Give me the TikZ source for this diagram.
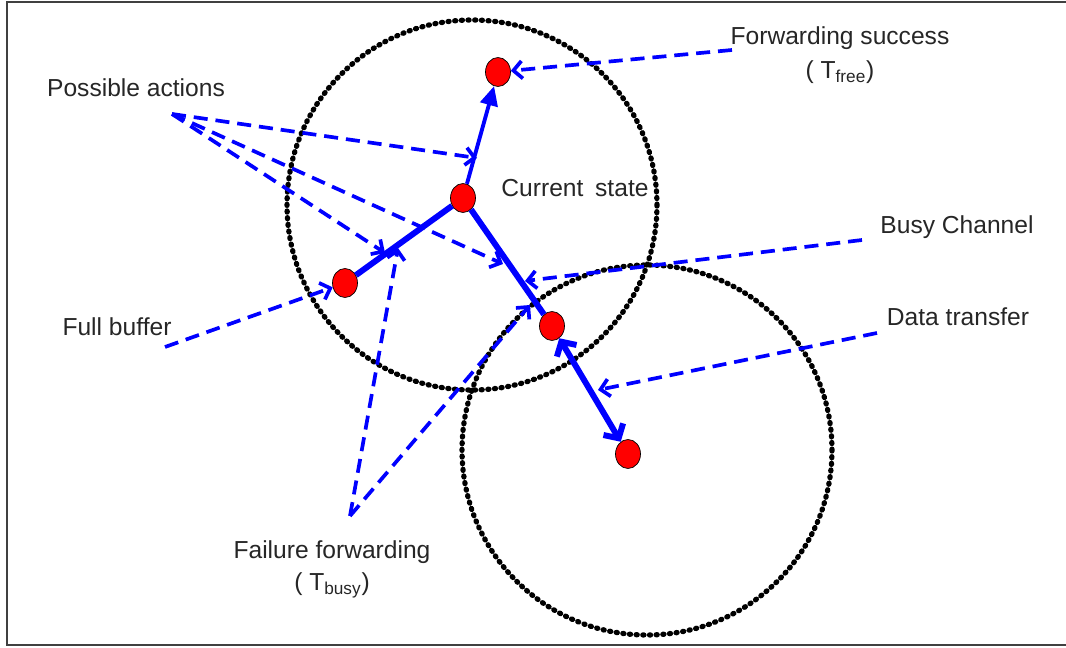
\documentclass[tikz,border=0pt]{standalone}
\usepackage{fontspec}
\setmainfont{Liberation Sans}
\usetikzlibrary{arrows.meta, shapes.geometric}

\begin{document}
\begin{tikzpicture}[x=0.02cm, y=-0.02cm,
        state/.style={draw=black, thin, fill=red, ellipse, minimum width=0.5cm, minimum height=0.58cm, inner sep=0pt},
        lbl/.style={font=\fontsize{14}{16}\selectfont, text=black!85, inner sep=0pt},
        hint/.style={draw=blue, line width=2.1pt, dash pattern=on 8pt off 4.5pt, -{Straight Barb[length=5pt,width=10pt]}},
        ring/.style={draw=black, line width=3pt, dash pattern=on 0.6pt off 3.2pt, line cap=round},
        move/.style={draw=blue, line width=3.4pt}]
        \useasboundingbox (0,0) rectangle (1066,648);
        % Frame
        \draw[black!75, line width=1.4pt] (1070,2) -- (7,2) -- (7,645) -- (1070,645);

        % Ranges
        \draw[ring] (472,205) circle (185);
        \draw[ring] (647,450) circle (185);

        % States
        \node (top) [state] at (498,72) {};
        \node (current) [state] at (463,198) {};
        \node (left) [state] at (345,283) {};
        \node (mid) [state] at (552,326) {};
        \node (bottom) [state] at (628,454) {};

        % Labels
        \node (possible) [lbl] at (136,88) {Possible actions};
        \node (success) [lbl] at (840,38) {Forwarding success};
        \node (tfree) [lbl] at (840,72) {( T\textsubscript{free})};
        \node (curlbl) [lbl] at (575,188) {Current\hspace{0.2em} state};
        \node (busy) [lbl] at (957,227) {Busy Channel};
        \node (transfer) [lbl] at (958,317) {Data transfer};
        \node (full) [lbl] at (117,327) {Full buffer};
        \node (failure) [lbl] at (332,552) {Failure forwarding};
        \node (tbusy) [lbl] at (332,585) {( T\textsubscript{busy})};

        % Free ends of the hints
        \coordinate (pa) at (172,114);
        \coordinate (pa1) at (477,158);
        \coordinate (pa2) at (503,264);
        \coordinate (pa3) at (385,253);
        \coordinate (fb) at (165,347);
        \coordinate (fs) at (732,50);
        \coordinate (bc) at (862,240);
        \coordinate (bc1) at (525,281);
        \coordinate (dt) at (877,333);
        \coordinate (dt1) at (598,390);
        \coordinate (ff) at (350,516);
        \coordinate (ff1) at (398,248);
        \coordinate (ff2) at (530,305);

        % Moves
        \draw[draw=blue, line width=2.2pt, -{Triangle[length=11pt,width=10pt]}] (current) -- (top);
        \draw[move] (current) -- (left);
        \draw[move] (current) -- (mid);
        \draw[move, {Straight Barb[length=6pt,width=13pt]}-{Straight Barb[length=6pt,width=13pt]}] (mid) -- (bottom);

        % Hints
        \draw[hint] (pa) -- (pa1);
        \draw[hint] (pa) -- (pa2);
        \draw[hint] (pa) -- (pa3);
        \draw[hint] (fb) -- (left);
        \draw[hint] (fs) -- (top);
        \draw[hint] (bc) -- (bc1);
        \draw[hint] (dt) -- (dt1);
        \draw[hint] (ff) -- (ff1);
        \draw[hint] (ff) -- (ff2);
\end{tikzpicture}
\end{document}
